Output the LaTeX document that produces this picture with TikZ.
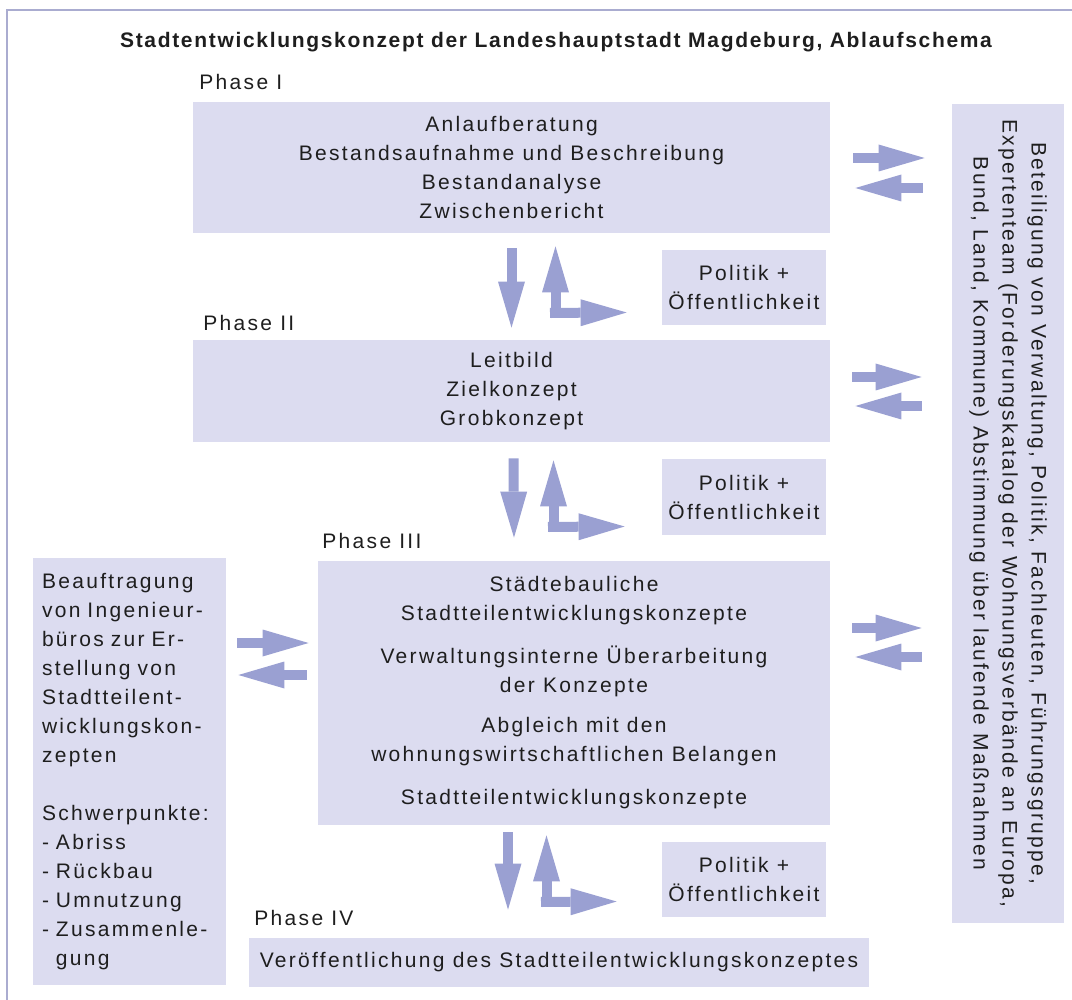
\documentclass[tikz,border=0pt]{standalone}
\usepackage{fontspec}
\setmainfont{Liberation Sans}[LetterSpace=11]
\newfontfamily\titlefont{Liberation Sans}[LetterSpace=8]
\usepackage{tikz}
\usetikzlibrary{arrows.meta}
\usetikzlibrary{calc}

\definecolor{boxfill}{RGB}{220,220,240}
\definecolor{arrowfill}{RGB}{154,160,210}
\definecolor{framecol}{RGB}{170,172,208}
\definecolor{textcol}{RGB}{30,30,30}

\tikzset{
  stagebox/.style={fill=boxfill, text=textcol, align=center, inner sep=0pt},
  phaselabel/.style={anchor=west, inner sep=0pt, text=textcol},
  blockarrow/.style={draw=arrowfill, line width=5pt,
    -{Triangle[length=23pt, width=13.5pt, line width=0pt]}},
}

\begin{document}
\begin{tikzpicture}[x=.5pt,y=-.5pt, font=\fontsize{10.5pt}{14.5pt}\selectfont]
\useasboundingbox (0,0) rectangle (1072,1000);
\draw[framecol, line width=1pt] (7,1000) -- (7,10) -- (1072,10); % frame

\node[text=textcol, inner sep=0pt] (title) at (556,42) {\titlefont\fontsize{10.5pt}{12pt}\selectfont\bfseries Stadtentwicklungskonzept der Landeshauptstadt Magdeburg, Ablaufschema};

% phases
\node[phaselabel] (ph1) at (199,82) {Phase I};
\node[stagebox, minimum width=318.5pt, minimum height=65.5pt] (box1) at (511.5,167.5)
  {Anlaufberatung\\Bestandsaufnahme und Beschreibung\\Bestandanalyse\\Zwischenbericht};
\node[phaselabel] (ph2) at (203,323) {Phase II};
\node[stagebox, minimum width=318.5pt, minimum height=51pt] (box2) at (511.5,391)
  {Leitbild\\Zielkonzept\\Grobkonzept};
\node[phaselabel] (ph3) at (322,541) {Phase III};
\node[stagebox, minimum width=256pt, minimum height=132pt] (box3) at (574,693)
  {Städtebauliche\\Stadtteilentwicklungskonzepte\\[7pt]
   Verwaltungsinterne Überarbeitung\\der Konzepte\\[5.5pt]
   Abgleich mit den\\wohnungswirtschaftlichen Belangen\\[7pt]
   Stadtteilentwicklungskonzepte};
\node[phaselabel] (ph4) at (254,918) {Phase IV};
\node[stagebox, minimum width=310pt, minimum height=24.5pt] (box4) at (559,962.5)
  {Veröffentlichung des Stadtteilentwicklungskonzeptes};

% politik boxes
\node[stagebox, minimum width=82pt, minimum height=37.5pt] (pol1) at (744,287.5) {Politik +\\Öffentlichkeit};
\node[stagebox, minimum width=82pt, minimum height=37.5pt] (pol2) at (744,497) {Politik +\\Öffentlichkeit};
\node[stagebox, minimum width=82pt, minimum height=37.5pt] (pol3) at (744,879.5) {Politik +\\Öffentlichkeit};

% side boxes
\node[stagebox, align=left, text width=87.5pt, inner xsep=4.5pt, minimum height=213.5pt] (lbox) at (129.5,771.5)
  {Beauftragung\\von Ingenieur-\\büros zur Er-\\stellung von\\Stadtteilent-\\wicklungskon-\\zepten\\[14.5pt]
   Schwerpunkte:\\- Abriss\\- Rückbau\\- Umnutzung\\- Zusammenle-\\\phantom{-}\ gung};
\node[stagebox, rotate=-90, minimum width=409.5pt, minimum height=56pt] (info) at (1008,513.5)
  {Beteiligung von Verwaltung, Politik, Fachleuten, Führungsgruppe,\\
   Expertenteam (Forderungskatalog der Wohnungsverbände an Europa,\\
   Bund, Land, Kommune) Abstimmung über laufende Maßnahmen};

% phase I -> phase II
\draw[blockarrow] ($(box1.south)+(0,15)$) -- ($(box2.north)+(0,-12)$);
\coordinate (c1) at ($(box1.south)+(44,85)$); % corner
\draw[blockarrow] (c1) -- ($(box1.south)+(44,13)$);
\draw[blockarrow] ($(c1)+(-5.5,-5.5)$) -- ($(pol1.west)+(-35,25)$);

% phase II -> phase III
\draw[blockarrow] ($(box2.south)+(2,16)$) -- ($(box3.north)+(-60,-23)$);
\coordinate (c2) at ($(box2.south)+(42,90)$); % corner
\draw[blockarrow] (c2) -- ($(box2.south)+(42,18)$);
\draw[blockarrow] ($(c2)+(-5.5,-5.5)$) -- ($(pol2.west)+(-37,29.5)$);

% phase III -> phase IV
\draw[blockarrow] ($(box3.south)+(-66,7)$) -- ($(box4.north)+(-51,-28)$);
\coordinate (c3) at ($(box3.south)+(-27.5,82)$); % corner
\draw[blockarrow] (c3) -- ($(box3.south)+(-27.5,10)$);
\draw[blockarrow] ($(c3)+(-5.5,-5.5)$) -- ($(pol3.west)+(-45,22)$);

% exchange with info box (rotated, so its south is the left side)
\draw[blockarrow] ($(box1.east)+(23,-9.5)$) -- ($(box1.east -| info.south)+(-27,-9.5)$);
\draw[blockarrow] ($(box1.east -| info.south)+(-29,20.5)$) -- ($(box1.east)+(25,20.5)$);
\draw[blockarrow] ($(box2.east)+(22,-14)$) -- ($(box2.east -| info.south)+(-30,-14)$);
\draw[blockarrow] ($(box2.east -| info.south)+(-30,15)$) -- ($(box2.east)+(25,15)$);
\draw[blockarrow] ($(box3.east)+(22,-65)$) -- ($(box3.east -| info.south)+(-30,-65)$);
\draw[blockarrow] ($(box3.east -| info.south)+(-30,-36)$) -- ($(box3.east)+(25,-36)$);

% exchange with left box
\draw[blockarrow] ($(lbox.east |- box3.west)+(11,-50)$) -- ($(box3.west)+(-9,-50)$);
\draw[blockarrow] ($(box3.west)+(-11,-18)$) -- ($(lbox.east |- box3.west)+(12,-18)$);
\end{tikzpicture}
\end{document}
